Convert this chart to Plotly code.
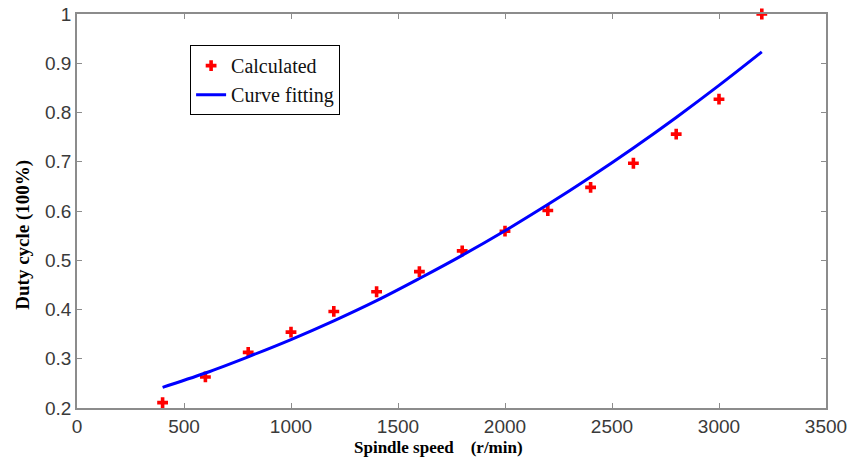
import plotly.graph_objects as go

speed = [400, 600, 800, 1000, 1200, 1400, 1600, 1800, 2000, 2200, 2400, 2600, 2800, 3000, 3200]
calculated = [0.211, 0.263, 0.313, 0.354, 0.396, 0.436, 0.477, 0.519, 0.559, 0.601, 0.648, 0.697, 0.756, 0.827, 1.0]
fitted = [0.242, 0.271, 0.304, 0.339, 0.377, 0.418, 0.463, 0.510, 0.560, 0.613, 0.669, 0.728, 0.790, 0.855, 0.923]

x_ticks = [0, 500, 1000, 1500, 2000, 2500, 3000, 3500]
y_ticks = [0.2, 0.3, 0.4, 0.5, 0.6, 0.7, 0.8, 0.9, 1.0]
y_labels = ["0.2", "0.3", "0.4", "0.5", "0.6", "0.7", "0.8", "0.9", "1"]

fig = go.Figure()
fig.add_trace(go.Scatter(
    x=speed, y=calculated, mode="markers", name="Calculated",
    marker=dict(symbol="cross", size=9, color="#ff0000", line=dict(width=0)),
    cliponaxis=False,
))
fig.add_trace(go.Scatter(
    x=speed, y=fitted, mode="lines", name="Curve fitting",
    line=dict(color="#0000ff", width=3, shape="spline"),
))

axis_common = dict(
    showline=True, linecolor="#8c8c8c", linewidth=1.5, mirror="ticks",
    ticks="inside", ticklen=5, tickcolor="#8c8c8c", showgrid=False, zeroline=False,
    automargin=False,
    tickfont=dict(family="Liberation Sans, Arial", size=19, color="#3a3a3a"),
)

serif = "Liberation Serif, Times New Roman"

fig.update_layout(
    width=861, height=459,
    margin=dict(l=77, r=35, t=14, b=51),
    paper_bgcolor="white", plot_bgcolor="white",
    showlegend=True,
    legend=dict(
        x=0.151, y=0.921, xanchor="left", yanchor="top",
        bordercolor="black", borderwidth=1, bgcolor="white",
        font=dict(family=serif, size=20, color="#111111"),
        tracegroupgap=0, itemwidth=30,
    ),
    xaxis=dict(range=[0, 3500], tickvals=x_ticks, ticktext=[str(v) for v in x_ticks], **axis_common),
    yaxis=dict(range=[0.2, 1.0], tickvals=y_ticks, ticktext=y_labels, **axis_common),
    annotations=[
        dict(text="<b>Spindle speed\u00a0\u00a0\u00a0\u00a0(r/min)</b>", xref="paper", yref="paper",
             x=0.482, y=-0.1294, xanchor="center", yanchor="bottom", showarrow=False,
             font=dict(family=serif, size=17, color="black")),
        dict(text="<b>Duty cycle (100%)</b>", xref="paper", yref="paper", textangle=-90,
             x=-0.072, y=0.44, xanchor="center", yanchor="middle", showarrow=False,
             font=dict(family=serif, size=19, color="black")),
    ],
)

fig.write_html("out.html")
